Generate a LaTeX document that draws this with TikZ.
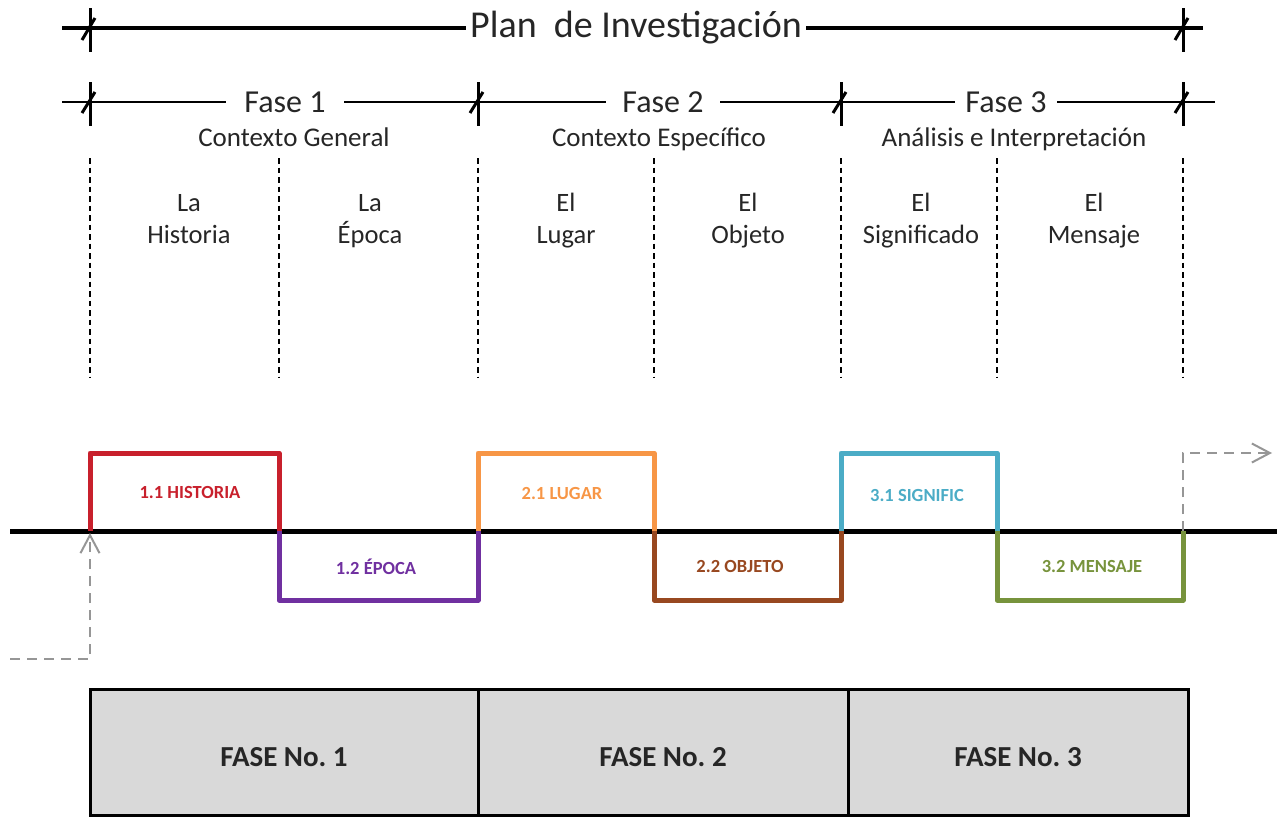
\documentclass[tikz,border=0pt]{standalone}
\usepackage{fontspec}
\setmainfont{Carlito}
\usetikzlibrary{arrows.meta}
\frenchspacing

\definecolor{histred}{RGB}{200,32,44}
\definecolor{epocapurple}{RGB}{112,48,160}
\definecolor{lugarorange}{RGB}{247,150,70}
\definecolor{objetobrown}{RGB}{152,72,32}
\definecolor{signifcyan}{RGB}{75,172,198}
\definecolor{mensajegreen}{RGB}{119,147,60}
\definecolor{boxgray}{RGB}{217,217,217}
\definecolor{arrowgray}{RGB}{150,150,150}

\tikzset{
  rule/.style={line width=3.2pt},
  tick/.style={line width=3pt},
  colsep/.style={line width=1.6pt,dash pattern=on 5.5pt off 4pt},
  wave/.style={line width=5pt,line join=round},
  flow/.style={arrowgray,line width=2pt,dash pattern=on 10pt off 7pt,
    -{Straight Barb[length=18pt,width=19pt,line width=2pt]}},
  phasebox/.style={draw,line width=3pt,fill=boxgray,minimum height=126pt,
    font=\fontsize{29}{34}\selectfont\bfseries,text=black!85},
  phasetext/.style={font=\fontsize{29}{34}\selectfont\bfseries,text=black!85},
  steplabel/.style={font=\fontsize{18.5}{20}\selectfont\bfseries},
  faselabel/.style={fill=white,font=\fontsize{32}{36}\selectfont,text=black!85},
  ctxlabel/.style={anchor=base,font=\fontsize{27}{30}\selectfont,text=black!85},
  collabel/.style={align=center,text height=20pt,text depth=40pt,
    font=\fontsize{26.5}{32}\selectfont,text=black!85},
}

\begin{document}
\begin{tikzpicture}[x=1pt,y=-1pt]
\useasboundingbox (0,0) rectangle (1277,817);

% Plan line with its end marks
\draw[rule] (62,28) -- (1203,28);
\node[fill=white,inner xsep=4pt,font=\fontsize{38}{42}\selectfont,text=black!85] (plan) at (636,28) {Plan\ \ de Investigación};
\foreach \x in {90,1183} {
  \draw[tick] (\x,8) -- (\x,52);
  \draw[tick] (\x-8,40) -- (\x+5,18);
}

% Phase line with its marks
\draw[rule,line width=2.6pt] (62,102) -- (1215,102);
\foreach \x in {90,478,841,1183} {
  \draw[tick] (\x,82) -- (\x,126);
  \draw[tick] (\x-8,113) -- (\x+5,92);
}
\node[faselabel,inner xsep=18pt] (fase1) at (285,102) {Fase 1};
\node[faselabel,inner xsep=16pt] (fase2) at (663,102) {Fase 2};
\node[faselabel,inner xsep=10pt] (fase3) at (1006,102) {Fase 3};
\node[ctxlabel] (ctxgen) at (294,146) {Contexto General};
\node[ctxlabel] (ctxesp) at (659,146) {Contexto Específico};
\node[ctxlabel] (analisis) at (1014,146) {Análisis e Interpretación};

% Column separators
\foreach \x in {90,279,478,654,841,997,1183}
  \draw[colsep] (\x,158) -- (\x,378);

% Column titles
\foreach \x/\top/\bot/\name in {189/La/Historia/historia, 370/La/Época/epoca,
    566/El/Lugar/lugar, 748/El/Objeto/objeto, 921/El/Significado/significado,
    1094/El/Mensaje/mensaje}
  \node[collabel] (\name) at (\x,253) {\top\\\bot};

% Time axis
\coordinate (axisL) at (10,531);
\coordinate (axisR) at (1277,531);
\draw[line width=5pt] (axisL) -- (axisR);

% Square wave
\coordinate (w0) at (90,531);
\coordinate (w1) at (279,531);
\coordinate (w2) at (478,531);
\coordinate (w3) at (654,531);
\coordinate (w4) at (841,531);
\coordinate (w5) at (997,531);
\coordinate (w6) at (1183,531);
\draw[wave,histred] (w0) -- ++(0,-78) -| (w1);
\draw[wave,epocapurple] (w1) -- ++(0,69) -| (w2);
\draw[wave,lugarorange] (w2) -- ++(0,-78) -| (w3);
\draw[wave,objetobrown] (w3) -- ++(0,69) -| (w4);
\draw[wave,signifcyan] (w4) -- ++(0,-78) -| (w5);
\draw[wave,mensajegreen] (w5) -- ++(0,69) -| (w6);

\node[steplabel,histred] (s11) at (190,492) {1.1 HISTORIA};
\node[steplabel,epocapurple] (s12) at (376,567) {1.2 ÉPOCA};
\node[steplabel,lugarorange] (s21) at (562,493) {2.1 LUGAR};
\node[steplabel,objetobrown] (s22) at (740,566) {2.2 OBJETO};
\node[steplabel,signifcyan] (s31) at (917,495) {3.1 SIGNIFIC};
\node[steplabel,mensajegreen] (s32) at (1092,566) {3.2 MENSAJE};

% Entry and exit arrows
\coordinate (inStart) at (10,659);
\coordinate (inTip) at (90,533);
\coordinate (outTip) at (1272,453);
\draw[flow] (inStart) -| (inTip);
\draw[flow] (w6) |- (outTip);

% Phase boxes
\node[phasebox,minimum width=388pt] (box1) at (284,752) {};
\node[phasebox,minimum width=370pt] (box2) at (663,752) {};
\node[phasebox,minimum width=340pt] (box3) at (1018,752) {};
\node[phasetext] at (284,757) {FASE No. 1};
\node[phasetext] at (663,757) {FASE No. 2};
\node[phasetext] at (1018,757) {FASE No. 3};

\end{tikzpicture}
\end{document}
